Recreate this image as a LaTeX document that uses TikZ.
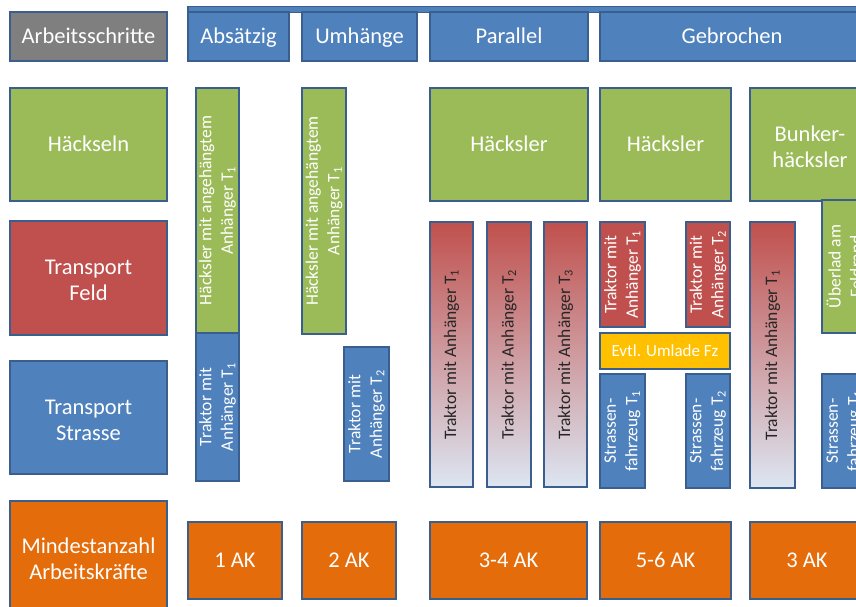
\documentclass[tikz,border=0pt]{standalone}
\usepackage{fontspec}
\setmainfont{Carlito}
\definecolor{cblue}{HTML}{4F81BD}
\definecolor{cbord}{HTML}{3A5F8E}
\definecolor{cgreen}{HTML}{9BBB59}
\definecolor{cred}{HTML}{C0504D}
\definecolor{corange}{HTML}{E46C0A}
\definecolor{cgray}{HTML}{7F7F7F}
\definecolor{cyellow}{HTML}{FFC000}
\definecolor{clight}{HTML}{C6D9F1}
\definecolor{clighter}{HTML}{DCE6F2}
\newcommand\mystrut{\rule[-0.24em]{0pt}{1.14em}}
\newcommand\topstrut{\rule[-0.24em]{0pt}{1.34em}}
\begin{document}
\begin{tikzpicture}[x=1pt,y=-1pt,
  plain/.style={draw=cbord, line width=1.6pt, inner sep=0pt},
  bx/.style={plain, align=center, text=white,
    font=\fontsize{22.5}{26}\selectfont, execute at begin node=\mystrut},
  wh/.style 2 args={minimum width=#1pt, minimum height=#2pt},
  blu/.style={bx, fill=cblue},
  grn/.style={bx, fill=cgreen},
  rd/.style={bx, fill=cred},
  org/.style={bx, fill=corange},
  gry/.style={bx, fill=cgray},
  yel/.style={bx, fill=cyellow, font=\fontsize{17}{20}\selectfont},
  grad/.style={plain, top color=cred, middle color=clight, bottom color=clighter},
  vt/.style={rotate=90, align=center, text=white, inner sep=0pt,
    font=\fontsize{17.5}{21.5}\selectfont},
  vtd/.style={vt, text=black!85}]
\useasboundingbox (0,0) rectangle (856,607);
\clip (0,0) rectangle (856,607);
\fill[white] (0,0) rectangle (856,607);
% header row
\node[plain, fill=cblue, wh={680}{6}] (hdr) at (528,9.5) {};
\node[gry, wh={157}{49}] (arb) at (88.5,36.5) {Arbeitsschritte};
\node[blu, wh={101}{49}] (abs) at (238.5,36.5) {Absätzig};
\node[blu, wh={115}{49}] (umh) at (359.5,36.5) {Umhänge};
\node[blu, wh={158}{49}] (par) at (509,36.5) {Parallel};
\node[blu, wh={264}{49}] (geb) at (732,36.5) {Gebrochen};
% left labels
\node[grn, wh={157}{113}] (hack) at (88.5,144.5) {Häckseln};
\node[rd, wh={157}{114}] (tf) at (88.5,278) {\topstrut Transport\\Feld\mystrut};
\node[blu, wh={157}{113}] (ts) at (88.5,417.5) {\topstrut Transport\\Strasse\mystrut};
\node[org, wh={157}{112}] (mind) at (88.5,557) {\topstrut Mindestanzahl\\Arbeitskräfte\mystrut};
% Absaetzig
\node[plain, fill=cgreen, wh={43}{245}] (absG) at (217.5,210.5) {};
\node[vt] at (absG) {Häcksler mit angehängtem\\Anhänger T\textsubscript{1}};
\node[plain, fill=cblue, wh={43}{148}] (absB) at (217.5,407) {};
\node[vt] at (absB) {Traktor mit\\Anhänger T\textsubscript{1}};
% Umhaenge
\node[plain, fill=cgreen, wh={44}{246}] (umhG) at (324,211) {};
\node[vt] at (umhG) {Häcksler mit angehängtem\\Anhänger T\textsubscript{1}};
\node[plain, fill=cblue, wh={45}{134}] (umhB) at (366.5,414) {};
\node[vt] at (umhB) {Traktor mit\\Anhänger T\textsubscript{2}};
% Parallel
\node[grn, wh={158}{113}] (parH) at (509,144.5) {Häcksler};
\node[grad, wh={43}{265}] (p1) at (451.5,354.5) {};
\node[vtd] at (p1) {Traktor mit Anhänger T\textsubscript{1}};
\node[grad, wh={44}{265}] (p2) at (509,354.5) {};
\node[vtd] at (p2) {Traktor mit Anhänger T\textsubscript{2}};
\node[grad, wh={43}{265}] (p3) at (565.5,354.5) {};
\node[vtd] at (p3) {Traktor mit Anhänger T\textsubscript{3}};
% Gebrochen
\node[grn, wh={131}{113}] (gebH) at (665.5,144.5) {Häcksler};
\node[grn, wh={120}{113}] (bunk) at (810,144.5) {\topstrut Bunker-\\häcksler\mystrut};
\node[plain, fill=cgreen, wh={45}{133}] (uber) at (844.5,266.5) {};
\node[vt] at (uber) {Überlad am\\Feldrand};
\node[plain, fill=cred, wh={45}{105}] (gT1) at (622.5,274.5) {};
\node[vt] at (gT1) {Traktor mit\\Anhänger T\textsubscript{1}};
\node[plain, fill=cred, wh={44}{105}] (gT2) at (708,274.5) {};
\node[vt] at (gT2) {Traktor mit\\Anhänger T\textsubscript{2}};
\node[yel, wh={130}{36}] (evtl) at (665,351) {Evtl. Umlade Fz};
\node[plain, fill=cblue, wh={45}{114}] (gS1) at (622.5,431) {};
\node[vt] at (gS1) {Strassen-\\fahrzeug T\textsubscript{1}};
\node[plain, fill=cblue, wh={44}{114}] (gS2) at (708,431) {};
\node[vt] at (gS2) {Strassen-\\fahrzeug T\textsubscript{2}};
\node[grad, wh={45}{266}] (bT1) at (772.5,355) {};
\node[vtd] at (bT1) {Traktor mit Anhänger T\textsubscript{1}};
\node[plain, fill=cblue, wh={45}{114}] (bS) at (844.5,431) {};
\node[vt] at (bS) {Strassen-\\fahrzeug T\textsubscript{1}};
% bottom row
\node[org, wh={94}{77}] (ak1) at (235,560.5) {1 AK};
\node[org, wh={94}{77}] (ak2) at (349,560.5) {2 AK};
\node[org, wh={157}{77}] (ak34) at (508.5,560.5) {3-4 AK};
\node[org, wh={131}{77}] (ak56) at (665.5,560.5) {5-6 AK};
\node[org, wh={114}{77}] (ak3) at (807,560.5) {3 AK};
\end{tikzpicture}
\end{document}
